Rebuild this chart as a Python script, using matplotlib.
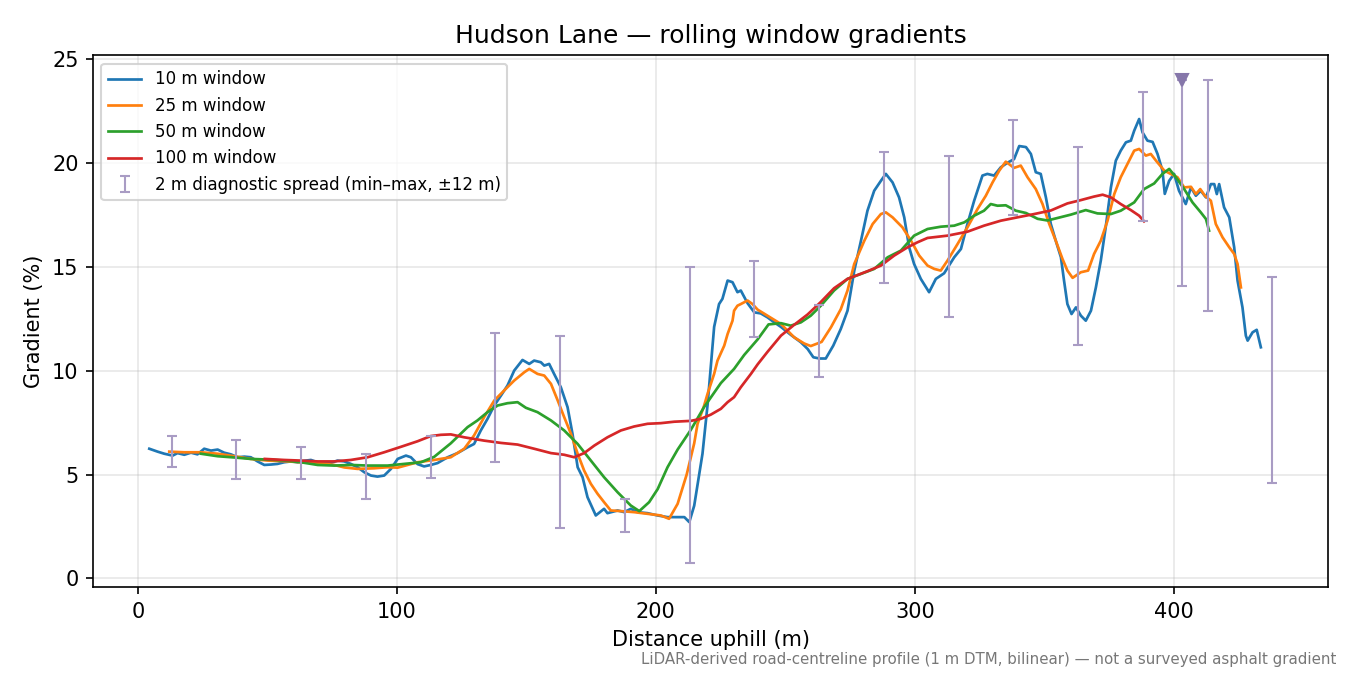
import matplotlib
matplotlib.use("Agg")
import matplotlib.pyplot as plt
import numpy as np

# 10 m window
w10_x = [4.4, 7.6, 10.2, 13.4, 15.3, 17.9, 20.5, 23.0, 25.6, 28.2, 30.8, 33.3, 35.9, 38.5,
         41.1, 43.6, 46.2, 48.8, 51.4, 53.9, 56.5, 59.1, 61.7, 64.2, 66.8, 69.4, 71.9, 74.5,
         77.1, 79.7, 82.2, 84.8, 87.4, 90.0, 92.5, 95.1, 97.7, 100.3, 103.5, 105.4, 108.0,
         110.5, 113.1, 115.7, 119.6, 123.4, 127.3, 129.8, 132.4, 135.0, 137.6, 140.2, 142.7,
         145.3, 148.5, 151.1, 153.0, 155.6, 156.9, 158.8, 160.7, 163.3, 165.9, 167.8, 169.8,
         171.7, 173.6, 176.8, 180.0, 181.3, 185.2, 187.8, 190.3, 192.9, 196.8, 200.7, 204.5,
         208.4, 211.0, 212.9, 214.8, 216.2, 218.0, 220.0, 221.2, 222.5, 224.4, 225.7, 227.7,
         229.6, 231.5, 232.8, 235.4, 238.0, 240.5, 243.1, 245.7, 248.3, 252.1, 256.0, 258.6,
         260.8, 263.2, 265.6, 268.5, 271.4, 274.0, 276.6, 279.2, 281.7, 284.3, 286.9, 288.8,
         291.4, 293.9, 295.9, 297.8, 299.7, 302.3, 305.5, 308.1, 311.3, 315.2, 317.8, 320.3,
         322.9, 326.1, 328.0, 330.6, 333.2, 335.8, 338.3, 340.3, 342.9, 344.8, 346.7, 348.6,
         350.6, 352.5, 354.4, 356.4, 357.6, 358.9, 360.5, 362.2, 364.1, 366.0, 368.0, 369.9,
         371.8, 373.7, 375.7, 377.6, 379.5, 381.5, 383.4, 384.7, 386.6, 387.9, 389.8, 391.8,
         393.7, 395.6, 396.5, 398.2, 400.1, 402.0, 404.6, 406.6, 408.5, 410.4, 412.4, 414.3,
         415.6, 416.6, 417.5, 419.4, 421.4, 423.3, 424.6, 426.5, 427.8, 428.5, 430.4, 432.0,
         433.6]
w10_y = [6.24, 6.1, 6.0, 5.91, 6.03, 5.95, 6.05, 5.97, 6.24, 6.15, 6.2, 6.05, 5.97, 5.83,
         5.86, 5.83, 5.63, 5.46, 5.48, 5.51, 5.59, 5.63, 5.59, 5.66, 5.7, 5.59, 5.54, 5.56,
         5.67, 5.63, 5.51, 5.35, 5.11, 4.95, 4.9, 4.95, 5.27, 5.75, 5.91, 5.83, 5.5,
         5.39, 5.46, 5.55, 5.83, 6.03, 6.31, 6.47, 7.12, 7.68, 8.32, 8.8, 9.28,
         10.0, 10.51, 10.32, 10.48, 10.4, 10.24, 10.32, 9.84, 9.2, 8.24, 6.96, 5.35,
         4.87, 3.91, 3.03, 3.35, 3.14, 3.27, 3.19, 3.35, 3.19, 3.14, 3.03, 2.95,
         2.95, 2.95, 2.71, 3.5, 4.6, 6.0, 8.4, 10.16, 12.1, 13.2, 13.45, 14.33,
         14.25, 13.77, 13.85, 13.24, 12.8, 12.75, 12.56, 12.32, 12.1, 11.72, 11.36, 11.04,
         10.64, 10.58, 10.58, 11.2, 12.0, 12.88, 14.8, 16.25, 17.69, 18.65, 19.13, 19.46,
         19.05, 18.33, 17.37, 15.93, 15.13, 14.41, 13.77, 14.41, 14.68, 15.45, 15.85, 17.05,
         18.17, 19.38, 19.46, 19.38, 19.78, 20.0, 20.17, 20.8, 20.75, 20.42, 19.54, 19.46,
         18.33, 17.05, 16.25, 15.45, 14.33, 13.2, 12.72, 13.04, 12.64, 12.4, 12.88, 14.0,
         15.29, 16.9, 18.81, 20.1, 20.58, 20.98, 21.06, 21.54, 22.1, 21.46, 21.06, 21.0,
         20.42, 19.62, 18.5, 19.13, 19.46, 18.65, 18.01, 18.81, 18.41, 18.65, 18.33, 18.97,
         18.97, 18.49, 18.97, 17.85, 17.37, 15.93, 14.33, 13.04, 11.68, 11.44, 11.84, 11.96,
         11.12]

# 25 m window
w25_x = [12.1, 17.9, 24.3, 30.8, 37.2, 43.6, 50.1, 56.5, 62.9, 69.4, 75.8, 79.7, 84.8, 91.2,
         96.4, 100.3, 104.1, 108.0, 114.4, 120.8, 126.0, 129.8, 133.7, 137.6, 141.4, 145.3,
         149.2, 151.1, 154.3, 156.9, 159.5, 162.1, 164.6, 167.2, 169.8, 172.3, 174.9, 177.5,
         180.0, 182.6, 186.5, 191.6, 196.8, 201.9, 205.1, 208.4, 211.9, 214.8, 216.1, 218.6,
         220.0, 222.5, 223.8, 226.4, 227.7, 229.6, 230.2, 231.5, 232.8, 235.4, 237.3, 239.3,
         243.1, 248.3, 253.4, 257.3, 259.8, 264.0, 267.6, 271.4, 274.0, 276.6, 280.5, 283.7,
         286.9, 288.8, 291.4, 295.2, 298.5, 301.7, 304.9, 307.5, 310.0, 312.6, 316.5, 320.3,
         324.2, 327.4, 330.0, 332.6, 335.1, 338.3, 340.9, 343.5, 346.7, 349.3, 351.9, 354.4,
         357.0, 358.9, 360.9, 364.1, 366.9, 369.2, 371.8, 374.4, 377.0, 379.5, 382.1, 384.7,
         386.6, 389.2, 391.1, 393.1, 396.3, 398.8, 401.4, 404.0, 406.6, 408.5, 410.2, 412.0,
         414.3, 416.2, 418.8, 421.4, 423.3, 424.6, 425.9]
w25_y = [6.1, 6.07, 6.07, 6.0, 5.88, 5.75, 5.67, 5.64, 5.59, 5.56, 5.46, 5.34, 5.27, 5.3,
         5.35, 5.33, 5.46, 5.59, 5.7, 5.83, 6.24, 6.88, 7.76, 8.56, 9.04, 9.52,
         9.92, 10.08, 9.84, 9.76, 9.36, 8.56, 7.76, 6.96, 6.0, 5.19, 4.55, 4.07,
         3.67, 3.27, 3.24, 3.19, 3.11, 3.03, 2.87, 3.59, 5.0, 6.5, 7.44, 8.3,
         8.9, 9.84, 10.48, 11.2, 11.76, 12.4, 12.88, 13.12, 13.2, 13.37, 13.2, 12.93,
         12.64, 12.24, 11.6, 11.3, 11.18, 11.38, 12.08, 12.95, 13.85, 15.13, 16.25, 17.05,
         17.53, 17.61, 17.37, 16.89, 16.25, 15.53, 15.05, 14.89, 14.81, 15.29, 16.09, 16.89,
         17.77, 18.41, 19.05, 19.62, 20.05, 19.75, 19.86, 19.3, 18.73, 18.01, 17.05, 16.25,
         15.37, 14.81, 14.46, 14.73, 14.81, 15.61, 16.25, 17.21, 18.49, 19.3, 19.94, 20.58,
         20.66, 20.34, 20.42, 20.1, 19.62, 19.46, 19.3, 18.81, 18.84, 18.49, 18.73, 18.41,
         18.17, 17.05, 16.41, 15.93, 15.61, 15.13, 14.0]

# 50 m window
w50_x = [24.3, 30.8, 37.2, 43.6, 50.1, 56.5, 62.9, 69.4, 75.8, 82.2, 88.7, 96.4, 102.8, 109.3,
         114.4, 120.8, 127.3, 131.1, 135.0, 138.9, 142.7, 146.6, 149.8, 154.3, 159.5, 164.6,
         169.8, 174.9, 180.0, 185.2, 190.3, 193.6, 197.4, 200.7, 204.5, 208.4, 213.5, 218.6,
         225.1, 230.2, 234.1, 239.3, 243.5, 248.3, 252.1, 256.0, 259.8, 263.7, 268.8, 274.0,
         279.2, 284.3, 289.5, 294.6, 299.7, 304.9, 310.0, 315.2, 319.1, 322.9, 326.7, 329.3,
         331.9, 335.1, 339.0, 342.9, 347.4, 351.2, 355.1, 360.2, 366.0, 370.5, 375.7, 379.5,
         384.7, 388.5, 392.4, 395.6, 398.2, 400.8, 404.0, 407.2, 410.4, 412.4, 413.6]
w50_y = [6.0, 5.88, 5.82, 5.75, 5.72, 5.67, 5.59, 5.46, 5.43, 5.46, 5.43, 5.43, 5.51, 5.59,
         5.85, 6.5, 7.28, 7.6, 8.0, 8.32, 8.43, 8.48, 8.21, 8.0, 7.6, 7.12,
         6.47, 5.67, 4.87, 4.15, 3.51, 3.24, 3.67, 4.3, 5.35, 6.2, 7.15, 8.24,
         9.4, 10.08, 10.75, 11.5, 12.22, 12.28, 12.16, 12.32, 12.64, 13.12, 13.85, 14.41,
         14.65, 14.89, 15.45, 15.77, 16.49, 16.81, 16.92, 16.97, 17.13, 17.45, 17.69, 18.01,
         17.93, 17.95, 17.69, 17.58, 17.3, 17.22, 17.34, 17.5, 17.72, 17.56, 17.53, 17.69,
         18.09, 18.73, 19.0, 19.46, 19.7, 19.3, 18.73, 18.09, 17.61, 17.29, 16.73]

# 100 m window
w100_x = [49.0, 56.5, 62.9, 69.4, 75.8, 82.2, 88.7, 95.1, 101.5, 108.0, 113.1, 117.0, 120.8,
          126.0, 133.7, 140.2, 146.6, 153.0, 159.5, 164.6, 168.5, 172.3, 176.2, 181.3, 186.5,
          191.6, 196.8, 201.9, 207.1, 213.5, 217.4, 221.2, 225.1, 227.7, 230.2, 232.8, 236.7,
          239.3, 243.1, 248.3, 253.4, 258.6, 263.7, 268.8, 274.0, 281.7, 286.9, 292.0, 297.2,
          301.0, 304.9, 312.6, 320.3, 326.7, 333.2, 339.6, 346.1, 352.5, 358.9, 364.1, 369.2,
          372.5, 375.7, 379.5, 383.4, 386.6, 388.5]
w100_y = [5.75, 5.7, 5.67, 5.63, 5.63, 5.7, 5.83, 6.07, 6.33, 6.6, 6.85, 6.91, 6.93,
          6.79, 6.63, 6.52, 6.44, 6.24, 6.03, 5.95, 5.83, 6.03, 6.39, 6.79, 7.12,
          7.31, 7.44, 7.47, 7.54, 7.58, 7.68, 7.88, 8.16, 8.48, 8.72, 9.2, 9.84,
          10.3, 10.9, 11.68, 12.2, 12.7, 13.3, 13.96, 14.41, 14.78, 15.05, 15.53, 15.93,
          16.17, 16.38, 16.49, 16.68, 16.97, 17.21, 17.37, 17.53, 17.7, 18.04, 18.2, 18.37,
          18.46, 18.33, 18.01, 17.72, 17.45, 17.18]

# 2 m diagnostic spread (min/max within +-12 m)
spread_x = [13, 38, 63, 88, 113, 138, 163, 188, 213, 238, 263, 288, 313, 338, 363, 388,
            403, 413, 438]
spread_lo = [5.35, 4.79, 4.79, 3.83, 4.84, 5.59, 2.42, 2.23, 0.74, 11.6, 9.68, 14.2, 12.56,
             17.5, 11.25, 17.21, 14.09, 12.85, 4.6]
spread_hi = [6.83, 6.68, 6.3, 6.01, 6.83, 11.79, 11.65, 3.83, 14.97, 15.26, 13.16, 20.5, 20.33,
             22.07, 20.74, 23.38, 24.0, 23.99, 14.52]

# steepest 2 m reading
peak_x = 403
peak_y = 24.0

fig, ax = plt.subplots(figsize=(9, 4.5), dpi=150)
fig.subplots_adjust(left=0.069, right=0.984, top=0.918, bottom=0.13)

ax.plot(w10_x, w10_y, color="tab:blue", lw=1.3, label="10 m window")
ax.plot(w25_x, w25_y, color="tab:orange", lw=1.3, label="25 m window")
ax.plot(w50_x, w50_y, color="tab:green", lw=1.3, label="50 m window")
ax.plot(w100_x, w100_y, color="tab:red", lw=1.3, label="100 m window")

lo = np.array(spread_lo)
hi = np.array(spread_hi)
mid = (lo + hi) / 2
ax.errorbar(spread_x, mid, yerr=[mid - lo, hi - mid], fmt="none", ecolor="#a99cc4",
            elinewidth=1, capsize=2.5, label="2 m diagnostic spread (min\u2013max, \u00b112 m)")
ax.plot(peak_x, peak_y, marker="v", color="#8677aa", ms=6, ls="none")

ax.set_title("Hudson Lane \u2014 rolling window gradients", fontsize=12)
ax.set_xlabel("Distance uphill (m)")
ax.set_ylabel("Gradient (%)")
ax.grid(True, alpha=0.3)
ax.legend(loc="upper left", fontsize=8)

fig.text(0.99, 0.012, "LiDAR-derived road-centreline profile (1 m DTM, bilinear) \u2014 not a surveyed asphalt gradient",
         ha="right", va="bottom", fontsize=7.2, color="#777777")

plt.savefig("out.png", dpi=150)
